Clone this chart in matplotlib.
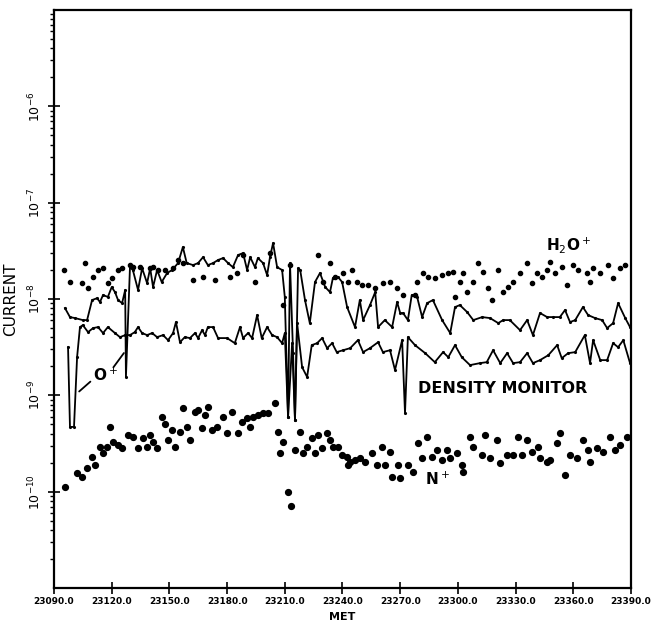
import matplotlib
matplotlib.use('Agg')
import matplotlib.pyplot as plt
from matplotlib.ticker import FixedLocator, LogLocator, NullFormatter

UNIT = 1e-9  # all current values below are in units of 1e-9

# upper trace (O+)
oplus_met = [23095.7, 23098.3, 23100.9, 23105, 23107.2, 23109.8, 23112.4, 23113.9, 23115.5, 23118,
             23120, 23121.7, 23123.3, 23125.4, 23127, 23127.4, 23129.5, 23131, 23133.7, 23135.8,
             23138.4, 23140, 23141.5, 23143.6, 23146, 23148.8, 23151.4, 23154.5, 23157, 23159,
             23162.3, 23164.9, 23167.5, 23170, 23172.7, 23175.3, 23177.9, 23180.5, 23183, 23185.7,
             23188.3, 23190.4, 23192, 23194.5, 23196, 23198.7, 23200.8, 23202.3, 23203.9, 23206,
             23208.6, 23210, 23211.7, 23212.7, 23214.3, 23215.3, 23216.9, 23218, 23220.5, 23223,
             23225.7, 23228.3, 23231, 23233.5, 23235, 23237.7, 23239.8, 23242.4, 23246.5, 23249,
             23250.7, 23254.3, 23257, 23258.5, 23262, 23265.8, 23268.4, 23270, 23271.5, 23274,
             23276, 23278.8, 23281.4, 23284, 23287, 23291.8, 23296, 23298.5, 23301, 23304.8,
             23308, 23312.6, 23316.7, 23321, 23323.5, 23327, 23332.3, 23336, 23339, 23342.7,
             23346.4, 23349.5, 23353, 23355.7, 23358.3, 23361, 23365, 23367.7, 23371.3, 23375,
             23377.6, 23380.7, 23383.3, 23387, 23389.5]
oplus_cur = [8.05, 6.49, 6.34, 6.04, 6.04, 9.75, 10.2, 9.3, 11.0, 10.5,
             13.3, 11.8, 9.75, 9.06, 12.4, 1.55, 21.4, 20.0, 12.4, 20.9,
             14.6, 20.9, 13.3, 20.0, 15.0, 18.6, 20.0, 23.6, 34.6, 23.6,
             22.5, 23.6, 27.2, 22.5, 23.6, 25.4, 26.6, 23.6, 21.4, 28.6,
             30.0, 20.0, 27.2, 21.4, 26.6, 23.6, 17.7, 27.2, 38.1, 21.4,
             20.0, 10.5, 0.59, 23.6, 2.74, 0.55, 20.9, 20.0, 9.75, 5.62,
             15.0, 18.6, 13.3, 11.8, 16.5, 16.9, 15.0, 8.24, 5.11, 9.75,
             6.04, 8.65, 11.8, 5.11, 6.04, 5.11, 9.3, 7.15, 7.15, 6.04,
             11.0, 10.5, 6.49, 9.06, 9.75, 6.04, 4.43, 8.24, 8.65, 7.32,
             6.04, 6.49, 6.34, 5.62, 6.04, 6.04, 4.75, 6.04, 4.22, 7.15,
             6.49, 6.49, 6.49, 7.68, 5.76, 6.04, 8.24, 6.81, 6.34, 6.04,
             4.99, 5.62, 9.06, 6.34, 5.11]

# lower trace (density monitor)
dens_met = [23097.3, 23098.3, 23100.4, 23102, 23103.5, 23105, 23107.7, 23110.3, 23112.9, 23115.5,
            23118, 23121.7, 23124.3, 23127, 23129.5, 23132, 23133.7, 23135.8, 23138.4, 23141,
            23143.6, 23146.7, 23149.3, 23151.9, 23153.4, 23155.5, 23158, 23160.7, 23163.3, 23164.9,
            23167, 23168.5, 23170, 23172.7, 23175.3, 23180, 23184, 23186.7, 23188.3, 23190.9,
            23193, 23195.6, 23198, 23200.8, 23203.4, 23206, 23208.6, 23210, 23211.7, 23213.8,
            23215.3, 23216.4, 23219, 23221.6, 23224, 23226.8, 23229.4, 23232, 23234.6, 23237,
            23240.3, 23244, 23248, 23250.7, 23254.3, 23258.5, 23261, 23264.7, 23267.3, 23271,
            23272.5, 23274, 23277.7, 23283, 23288, 23292.3, 23295, 23298.5, 23302, 23306.3,
            23311.5, 23315, 23318.3, 23322, 23325.6, 23328.7, 23332.3, 23336, 23339, 23342.7,
            23347, 23351.6, 23354, 23357.3, 23361, 23366, 23368.7, 23370.3, 23374, 23377.6,
            23380.7, 23383.3, 23386, 23389.5]
dens_cur = [3.16, 0.47, 0.47, 2.49, 5.11, 5.36, 4.53, 4.99, 5.11, 4.43,
            5.11, 4.43, 4.02, 4.22, 4.22, 4.53, 5.11, 4.43, 4.22, 4.43,
            4.02, 4.22, 3.74, 4.43, 5.76, 3.56, 4.02, 3.93, 4.43, 3.93,
            4.75, 4.22, 5.11, 5.11, 3.93, 3.93, 3.48, 5.11, 3.93, 4.43,
            3.93, 6.81, 3.93, 5.11, 4.22, 4.02, 3.48, 4.43, 0.59, 3.48,
            0.55, 5.62, 1.96, 1.55, 3.32, 3.48, 3.93, 3.09, 3.48, 2.81,
            2.94, 3.09, 3.74, 2.81, 3.09, 3.56, 2.81, 2.94, 1.83, 3.74,
            0.65, 4.02, 3.32, 2.74, 2.21, 2.81, 2.49, 3.32, 2.49, 2.06,
            2.16, 2.21, 2.94, 2.16, 2.74, 2.16, 2.21, 2.74, 2.16, 2.32,
            2.61, 3.32, 2.43, 2.74, 2.81, 4.22, 2.16, 3.74, 2.32, 2.32,
            3.48, 3.16, 3.74, 2.16]

# H2O+ samples
h2o_met = [23095.2, 23098.3, 23104.6, 23106, 23107.7, 23110.3, 23112.9, 23115.5, 23118, 23120,
           23123.3, 23125.4, 23129.5, 23131, 23134.7, 23140, 23141.5, 23144, 23147.7, 23151.9,
           23154.5, 23157, 23162.3, 23167.5, 23173.7, 23181.5, 23185, 23188.3, 23194.5, 23202.3,
           23209, 23212.7, 23227.3, 23230, 23233.5, 23236, 23240.3, 23242.9, 23245, 23247.6,
           23250, 23253.3, 23257, 23261, 23264.7, 23268.4, 23271.5, 23277.7, 23278.5, 23282,
           23284.5, 23288, 23291.8, 23295, 23297.5, 23298.5, 23301, 23302.7, 23304.8, 23308,
           23310.5, 23313, 23315.7, 23317.8, 23321, 23323.5, 23326, 23328.7, 23332.3, 23336,
           23338.6, 23341, 23343.8, 23346.4, 23348, 23350.5, 23354, 23356.8, 23360, 23362.5,
           23367, 23368.7, 23370.3, 23374, 23378, 23380.7, 23384.3, 23387]
h2o_cur = [20.0, 15.0, 14.6, 23.6, 13.0, 16.9, 20.0, 20.9, 14.6, 16.5,
           20.0, 20.9, 22.5, 21.4, 21.4, 20.9, 21.4, 20.0, 20.0, 20.9,
           25.4, 23.6, 15.7, 16.9, 15.7, 16.9, 18.6, 28.6, 15.0, 30.0,
           8.65, 22.5, 28.6, 15.0, 23.6, 16.9, 18.6, 15.0, 20.0, 15.0,
           13.9, 13.9, 13.0, 14.6, 15.0, 13.0, 11.0, 11.0, 15.0, 18.6,
           16.9, 16.5, 17.7, 18.6, 19.0, 10.5, 15.0, 18.6, 11.8, 15.0,
           23.6, 19.0, 13.0, 9.75, 20.0, 11.8, 13.3, 15.0, 18.6, 23.6,
           14.6, 18.6, 16.9, 20.0, 24.2, 18.6, 21.4, 13.9, 22.5, 20.0,
           18.6, 15.0, 20.9, 18.6, 22.5, 16.5, 20.9, 22.5]

# N+ samples
n_met = [23095.7, 23102, 23104.6, 23107.2, 23109.8, 23111.3, 23113.9, 23115.5, 23117.6, 23119,
         23120.7, 23123.3, 23125.4, 23128.5, 23131, 23133.7, 23136.3, 23138.4, 23140, 23141.5,
         23143.6, 23146, 23147.7, 23149.3, 23151.4, 23153, 23155.5, 23157, 23159, 23160.7,
         23163.3, 23164.9, 23167, 23168.5, 23170, 23172, 23174.8, 23177.9, 23180, 23182.6,
         23185.7, 23187.8, 23190.4, 23192, 23193.5, 23196, 23198.7, 23201.3, 23205, 23206.5,
         23207.5, 23209, 23211.7, 23213.2, 23215.3, 23218, 23219.5, 23221.6, 23224, 23225.7,
         23227.3, 23229.4, 23232, 23233.5, 23235, 23237.7, 23239.8, 23242.4, 23242.9, 23244,
         23246.5, 23249, 23251.7, 23255.4, 23258, 23260.6, 23262, 23264.7, 23265.8, 23269,
         23270, 23274, 23276.7, 23279.3, 23281.4, 23284, 23286.6, 23289, 23291.8, 23294.4,
         23296, 23299.6, 23302, 23302.7, 23306.3, 23308, 23312.6, 23314, 23316.7, 23320.4,
         23322, 23325.6, 23328.7, 23331.3, 23333.4, 23336, 23338.6, 23341.7, 23342.7, 23346.4,
         23348, 23351.6, 23353, 23355.7, 23358.3, 23362, 23365, 23367.7, 23368.7, 23372.4,
         23375.5, 23379, 23381.7, 23384.3, 23388]
n_cur = [0.111, 0.156, 0.141, 0.175, 0.228, 0.188, 0.29, 0.251, 0.29, 0.47,
         0.327, 0.304, 0.283, 0.386, 0.368, 0.283, 0.36, 0.29, 0.386, 0.327,
         0.283, 0.59, 0.51, 0.343, 0.435, 0.29, 0.415, 0.74, 0.47, 0.343,
         0.67, 0.70, 0.46, 0.62, 0.75, 0.435, 0.47, 0.59, 0.405, 0.67,
         0.405, 0.53, 0.58, 0.47, 0.59, 0.62, 0.65, 0.65, 0.83, 0.415,
         0.251, 0.327, 0.099, 0.071, 0.27, 0.415, 0.251, 0.29, 0.36, 0.251,
         0.386, 0.283, 0.405, 0.343, 0.29, 0.29, 0.239, 0.228, 0.188, 0.202,
         0.212, 0.223, 0.202, 0.251, 0.188, 0.29, 0.188, 0.257, 0.141, 0.188,
         0.138, 0.188, 0.159, 0.319, 0.223, 0.368, 0.228, 0.27, 0.212, 0.27,
         0.223, 0.251, 0.188, 0.159, 0.368, 0.29, 0.239, 0.386, 0.223, 0.343,
         0.198, 0.239, 0.239, 0.368, 0.239, 0.343, 0.257, 0.29, 0.223, 0.202,
         0.212, 0.319, 0.405, 0.148, 0.239, 0.223, 0.343, 0.27, 0.202, 0.283,
         0.257, 0.368, 0.27, 0.304, 0.368]

x_ticks = [23090, 23120, 23150, 23180, 23210, 23240, 23270, 23300, 23330, 23360, 23390]
y_ticks = [1e-10, 1e-9, 1e-8, 1e-7, 1e-6]
y_tick_labels = ['$10^{-10}$', '$10^{-9}$', '$10^{-8}$', '$10^{-7}$', '$10^{-6}$']

fig = plt.figure(figsize=(6.53, 6.26), dpi=100)
ax = fig.add_axes([0.0827, 0.0607, 0.8836, 0.9233])

ax.plot(oplus_met, [v * UNIT for v in oplus_cur], color='black', lw=1.3,
        marker='.', ms=2.5)
ax.plot(dens_met, [v * UNIT for v in dens_cur], color='black', lw=1.3,
        marker='.', ms=2.5)
ax.plot(h2o_met, [v * UNIT for v in h2o_cur], 'o', color='black', ms=3.0)
ax.plot(n_met, [v * UNIT for v in n_cur], 'o', color='black', ms=4.2)

ax.set_yscale('log')
ax.set_xlim(23090, 23390)
ax.set_ylim(1e-11, 1e-5)

ax.xaxis.set_major_locator(FixedLocator(x_ticks))
ax.set_xticklabels(['%.1f' % t for t in x_ticks], fontsize=6.5, fontweight='bold')
ax.set_yticks(y_ticks)
ax.set_yticklabels(y_tick_labels, rotation=90, fontsize=9, va='center')
ax.yaxis.set_minor_locator(LogLocator(base=10, subs=range(2, 10), numticks=20))
ax.yaxis.set_minor_formatter(NullFormatter())

ax.tick_params(axis='both', which='major', direction='inout', length=9, width=1.2)
ax.tick_params(axis='y', which='minor', direction='out', length=3, width=1)
ax.tick_params(axis='x', pad=2)
for s in ax.spines.values():
    s.set_linewidth(1.6)

ax.set_xlabel('MET', fontsize=8, fontweight='bold', labelpad=4)
ax.set_ylabel('CURRENT', fontsize=11, labelpad=6)

# curve labels
ax.text(23346, 36 * UNIT, 'H$_2$O$^+$', fontsize=11, fontweight='bold', va='center')
ax.text(23279, 1.19 * UNIT, 'DENSITY MONITOR', fontsize=11.5, fontweight='bold', va='center')
ax.text(23283, 0.135 * UNIT, 'N$^+$', fontsize=11, fontweight='bold', va='center')
ax.text(23110.5, 1.6 * UNIT, 'O$^+$', fontsize=11, fontweight='bold', va='center')
ax.annotate('', xy=(23102, 1.05 * UNIT), xytext=(23110, 1.45 * UNIT),
            arrowprops=dict(arrowstyle='-', color='black', lw=1.3))
ax.annotate('', xy=(23127.2, 2.9 * UNIT), xytext=(23120, 1.85 * UNIT),
            arrowprops=dict(arrowstyle='-', color='black', lw=1.3))

fig.savefig('out.png', dpi=100)
